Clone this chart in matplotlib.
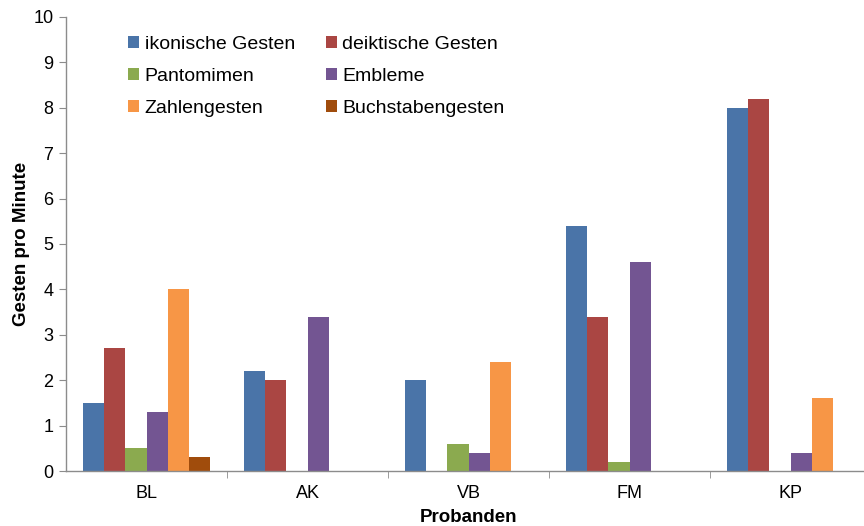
import matplotlib
matplotlib.use("Agg")
import matplotlib.pyplot as plt
import numpy as np

plt.rcParams['font.family'] = ['Liberation Sans', 'DejaVu Sans']

categories = ["BL", "AK", "VB", "FM", "KP"]
series_names = ["ikonische Gesten", "deiktische Gesten", "Pantomimen", "Embleme",
                "Zahlengesten", "Buchstabengesten"]
ikonische = [1.5, 2.2, 2.0, 5.4, 8.0]
deiktische = [2.7, 2.0, 0.0, 3.4, 8.2]
pantomimen = [0.5, 0.0, 0.6, 0.2, 0.0]
embleme = [1.3, 3.4, 0.4, 4.6, 0.4]
zahlengesten = [4.0, 0.0, 2.4, 0.0, 1.6]
buchstabengesten = [0.3, 0.0, 0.0, 0.0, 0.0]
series_values = [ikonische, deiktische, pantomimen, embleme, zahlengesten, buchstabengesten]
colors = ["#4A74A8", "#AA4643", "#8BAA4F", "#735592", "#F79646", "#A04C0C"]
yticks = list(range(0, 11))

W, H = 864, 526
fig = plt.figure(figsize=(W / 100, H / 100), dpi=100)
ax = fig.add_axes([66 / W, 55 / H, 805 / W, 454 / H])

x = np.arange(len(categories))
n = len(series_values)
group_w = 0.795
bw = group_w / n
handles = []
for i, (vals, c, name) in enumerate(zip(series_values, colors, series_names)):
    offs = -group_w / 2 + bw * (i + 0.5)
    b = ax.bar(x + offs, vals, width=bw, color=c, label=name, linewidth=0)
    handles.append(b)

ax.set_xlim(-0.5, len(categories) - 0.5)
ax.set_ylim(0, 10)
ax.set_yticks(yticks)
ax.set_yticklabels([str(t) for t in yticks])
ax.set_xticks(x)
ax.set_xticklabels(categories)
ax.set_xticks(np.arange(0.5, len(categories) - 0.5, 1.0), minor=True)

gray = "#8C8C8C"
for s in ["top", "right"]:
    ax.spines[s].set_visible(False)
for s in ["left", "bottom"]:
    ax.spines[s].set_color(gray)
    ax.spines[s].set_linewidth(1.0)

ax.tick_params(axis="y", direction="out", length=5, color=gray, labelsize=13, pad=4)
ax.tick_params(axis="x", which="major", length=0, labelsize=13, pad=10)
ax.tick_params(axis="x", which="minor", direction="out", length=5, color=gray)

ax.set_xlabel("Probanden", fontsize=13.5, fontweight="bold", labelpad=5)
ax.set_ylabel("Gesten pro Minute", fontsize=13.5, fontweight="bold")
ax.yaxis.set_label_coords(-36 / 805, 0.5)

order = [0, 2, 4, 1, 3, 5]
leg = ax.legend([handles[i] for i in order], [series_names[i] for i in order],
                ncol=2, loc="upper left", bbox_to_anchor=(128 / W, 1 - 36 / H),
                bbox_transform=fig.transFigure, frameon=False, fontsize=14,
                handlelength=0.55, handleheight=0.55, handletextpad=0.3,
                labelspacing=0.76, columnspacing=1.6, borderpad=0, borderaxespad=0)

fig.savefig("out.png", dpi=100)
